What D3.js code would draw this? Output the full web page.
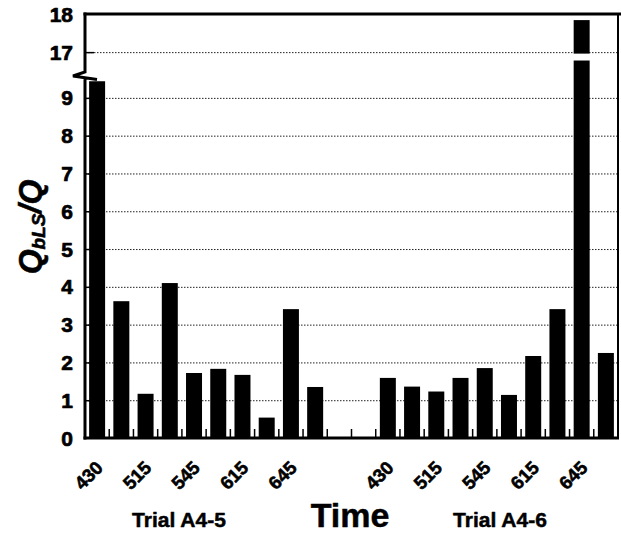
<!DOCTYPE html>
<html><head><meta charset="utf-8">
<script src="https://cdn.jsdelivr.net/npm/d3@7"></script>
<style>body{margin:0;background:#fff}svg{display:block}</style>
</head><body>
<script>
// ---- data ----
const slots = ["A4-5 430","A4-5 445","A4-5 515","A4-5 530","A4-5 545","A4-5 600","A4-5 615","A4-5 630","A4-5 645","A4-5 700",
  "gap1","gap2",
  "A4-6 430","A4-6 445","A4-6 515","A4-6 530","A4-6 545","A4-6 600","A4-6 615","A4-6 630","A4-6 645","A4-6 700"];
const values = [9.44,3.62,1.17,4.1,1.72,1.83,1.67,0.54,3.41,1.35,
  null,null,
  1.59,1.36,1.23,1.59,1.85,1.14,2.17,3.41,17.84,2.25];
const tickLabels = ["430","","515","","545","","615","","645","","","",
  "430","","515","","545","","615","","645",""];
const yTicks = [0,1,2,3,4,5,6,7,8,9,17,18];
const groupLabels = ["Trial A4-5","Trial A4-6"];

const W=621,H=534;
const svg=d3.select("body").append("svg").attr("width",W).attr("height",H);
const font="'Liberation Sans', Arial, sans-serif";
const L=85,R=618,T=14,B=438;

const x=d3.scaleBand().domain(slots).range([L,R]).paddingInner(0.34).paddingOuter(0.17);
const step=x.step();
// broken axis: 0..9.6 below the break, 16.4..18 above
const y=d3.scaleLinear().domain([0,9.6,16.4,18]).range([B,75.2,75,T]);

// gridlines
svg.append("g").selectAll("line").data(yTicks.filter(v=>v>0&&v<18)).join("line")
  .attr("x1",L).attr("x2",R).attr("y1",d=>y(d)+0.5).attr("y2",d=>y(d)+0.5)
  .attr("stroke","#222").attr("stroke-width",1).attr("stroke-dasharray","1.5,1.5");

// x ticks at slot boundaries (inside, upward)
svg.append("g").selectAll("line").data(d3.range(1,slots.length)).join("line")
  .attr("x1",i=>L+i*step).attr("x2",i=>L+i*step).attr("y1",B).attr("y2",B-9)
  .attr("stroke","#000").attr("stroke-width",1.5);

// bars
const bars=slots.map((s,i)=>({s,v:values[i]})).filter(d=>d.v!=null);
svg.append("g").selectAll("rect").data(bars).join("rect")
  .attr("x",d=>x(d.s)).attr("width",x.bandwidth())
  .attr("y",d=>y(d.v)).attr("height",d=>B-y(d.v)).attr("fill","#000");
// break gap in the tall bar
bars.filter(d=>d.v>16.4).forEach(d=>{
  svg.append("rect").attr("x",x(d.s)-1).attr("width",x.bandwidth()+2)
    .attr("y",y(17)+1.5).attr("height",y(16.78)-y(17)-1.5).attr("fill","#fff");
});

// y ticks (inside)
svg.append("g").selectAll("line").data(yTicks.filter(v=>v>0&&v<18)).join("line")
  .attr("x1",L).attr("x2",L+9).attr("y1",d=>y(d)+0.5).attr("y2",d=>y(d)+0.5)
  .attr("stroke","#000").attr("stroke-width",1.5);

// frame
const axisPath=d3.path();
axisPath.moveTo(L,T-1.5); axisPath.lineTo(L,72);
axisPath.lineTo(73,76); axisPath.lineTo(97,79.5);
axisPath.moveTo(L,78); axisPath.lineTo(L,B+1.5);
svg.append("path").attr("d",axisPath.toString()).attr("fill","none").attr("stroke","#000").attr("stroke-width",3);
svg.append("line").attr("x1",L-1.5).attr("x2",W).attr("y1",T).attr("y2",T).attr("stroke","#000").attr("stroke-width",3);
svg.append("line").attr("x1",L-1.5).attr("x2",R+1).attr("y1",B).attr("y2",B).attr("stroke","#000").attr("stroke-width",3);
svg.append("line").attr("x1",R).attr("x2",R).attr("y1",T).attr("y2",B).attr("stroke","#000").attr("stroke-width",2);

function heavy(sel,w){return sel.attr("stroke","#000").attr("stroke-width",w).attr("stroke-linejoin","round");}

// y tick labels
heavy(svg.append("g").selectAll("text").data(yTicks).join("text")
  .attr("x",73).attr("y",d=>y(d)).attr("dy","0.36em").attr("text-anchor","end")
  .attr("font-family",font).attr("font-weight","bold").attr("font-size",21)
  .text(d=>d),0.7);

// x tick labels rotated
heavy(svg.append("g").selectAll("text").data(slots.map((s,i)=>({s,t:tickLabels[i]})).filter(d=>d.t)).join("text")
  .attr("transform",d=>`translate(${x(d.s)+x.bandwidth()/2+7},469) rotate(-45)`)
  .attr("text-anchor","end").attr("font-family",font).attr("font-weight","bold").attr("font-size",18.5)
  .text(d=>d.t),0.6);

// group labels and axis title
heavy(svg.append("text").attr("x",179).attr("y",527).attr("text-anchor","middle")
  .attr("font-family",font).attr("font-weight","bold").attr("font-size",21).text(groupLabels[0]),0.5);
heavy(svg.append("text").attr("x",500).attr("y",527).attr("text-anchor","middle")
  .attr("font-family",font).attr("font-weight","bold").attr("font-size",21).text(groupLabels[1]),0.5);
heavy(svg.append("text").attr("x",350).attr("y",527).attr("text-anchor","middle")
  .attr("font-family",font).attr("font-weight","bold").attr("font-size",34).text("Time"),0.5);

// y axis title
const yt=heavy(svg.append("text").attr("transform","translate(41,227) rotate(-90)").attr("text-anchor","middle")
  .attr("font-family",font).attr("font-weight","bold").attr("font-style","italic").attr("font-size",32),0.6);
yt.append("tspan").text("Q");
yt.append("tspan").attr("font-size",19).attr("dy",4).text("bLS");
yt.append("tspan").attr("dy",-4).text("/Q");
</script>
</body></html>
